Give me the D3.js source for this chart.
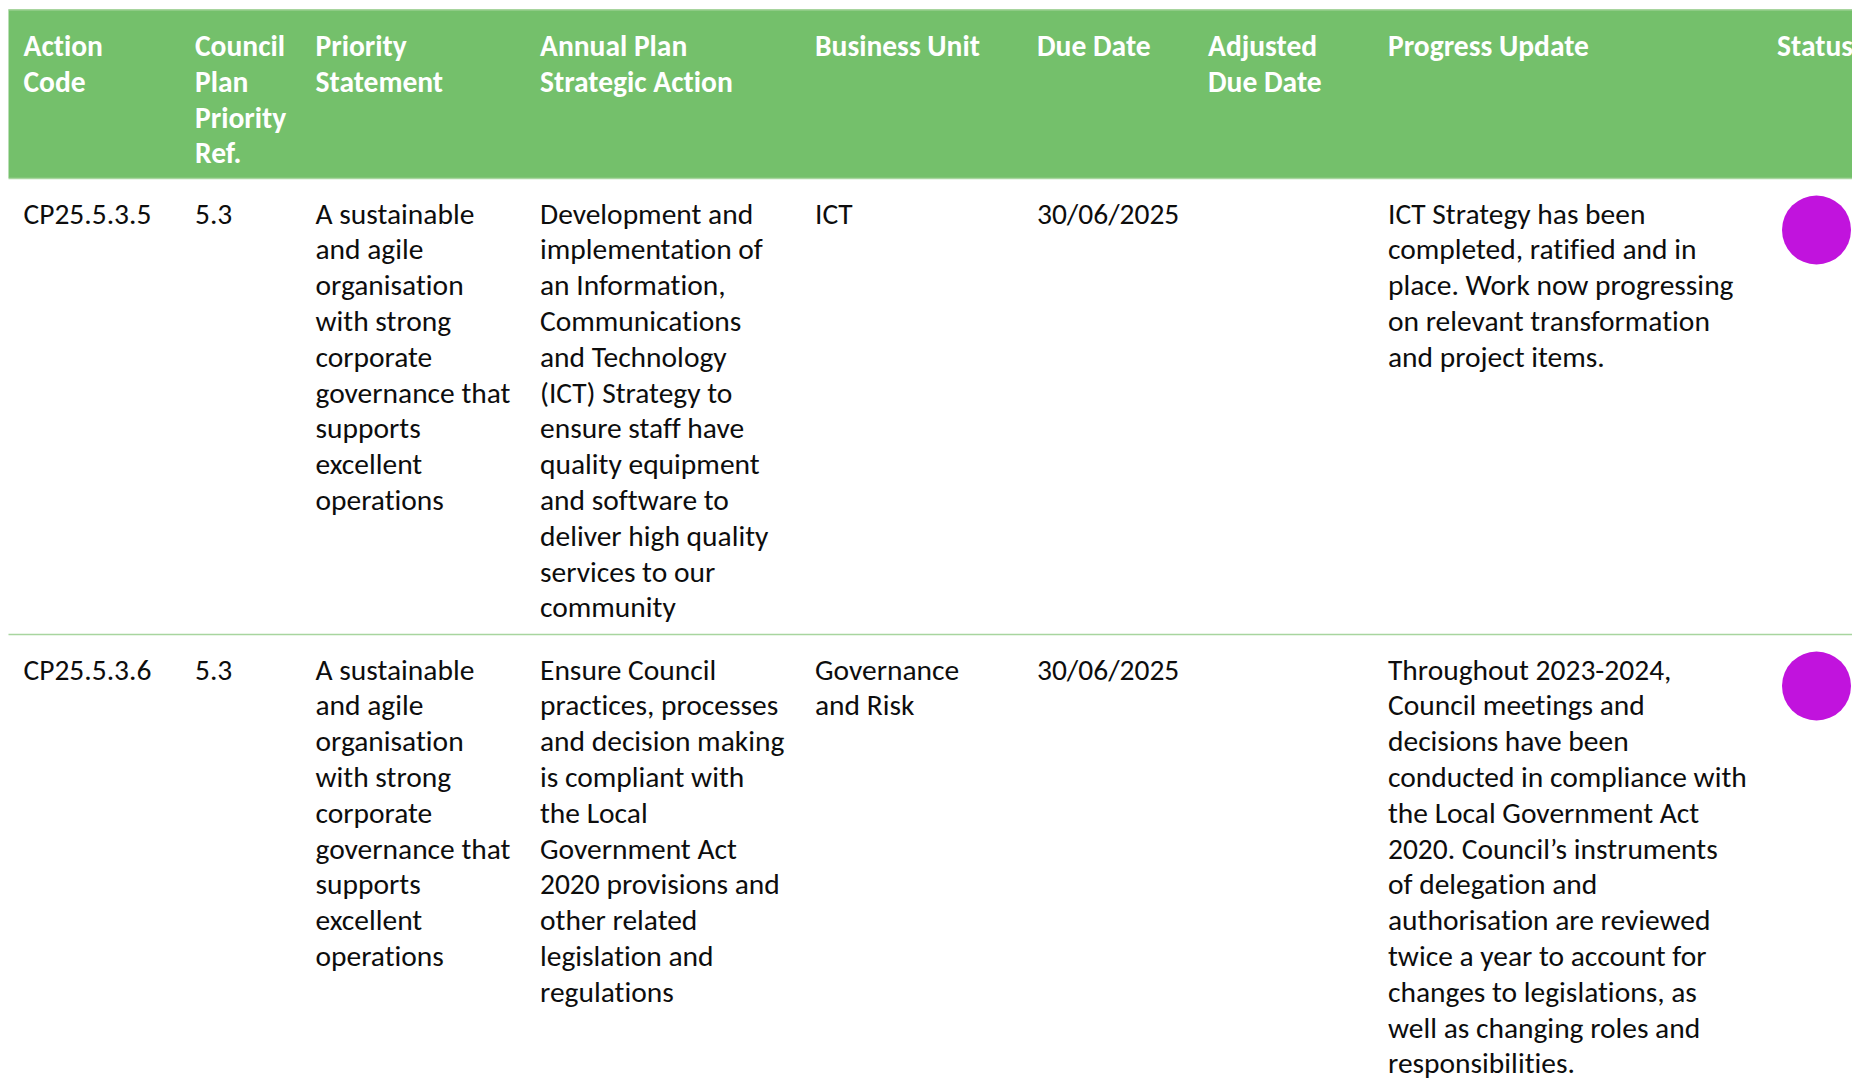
<!DOCTYPE html>
<html>
<head>
<meta charset="utf-8">
<script src="https://cdn.jsdelivr.net/npm/d3@7"></script>
<style>
  html, body { margin: 0; padding: 0; background: #ffffff; overflow: hidden; }
  svg { display: block; }
  text { font-variant-ligatures: none; font-feature-settings: "liga" 0, "clig" 0; }
</style>
</head>
<body>
<svg id="chart" width="1852" height="1084"></svg>
<script>
// ---------------- DATA ----------------
const columnKeys = ["code", "ref", "priority", "action", "unit", "due", "adjusted", "progress", "status"];
const headerLabels = [
  ["Action", "Code"],
  ["Council", "Plan", "Priority", "Ref."],
  ["Priority", "Statement"],
  ["Annual Plan", "Strategic Action"],
  ["Business Unit"],
  ["Due Date"],
  ["Adjusted", "Due Date"],
  ["Progress Update"],
  ["Status"]
];

const actionCodes = ["CP25.5.3.5", "CP25.5.3.6"];
const priorityRefs = ["5.3", "5.3"];
const priorityStatements = [
  ["A sustainable", "and agile", "organisation", "with strong", "corporate", "governance that", "supports", "excellent", "operations"],
  ["A sustainable", "and agile", "organisation", "with strong", "corporate", "governance that", "supports", "excellent", "operations"]
];
const strategicActions = [
  ["Development and", "implementation of", "an Information,", "Communications", "and Technology", "(ICT) Strategy to", "ensure staff have", "quality equipment", "and software to", "deliver high quality", "services to our", "community"],
  ["Ensure Council", "practices, processes", "and decision making", "is compliant with", "the Local", "Government Act", "2020 provisions and", "other related", "legislation and", "regulations"]
];
const businessUnits = [["ICT"], ["Governance", "and Risk"]];
const dueDates = ["30/06/2025", "30/06/2025"];
const adjustedDueDates = ["", ""];
const progressUpdates = [
  ["ICT Strategy has been", "completed, ratified and in", "place. Work now progressing", "on relevant transformation", "and project items."],
  ["Throughout 2023-2024,", "Council meetings and", "decisions have been", "conducted in compliance with", "the Local Government Act", "2020. Council\u2019s instruments", "of delegation and", "authorisation are reviewed", "twice a year to account for", "changes to legislations, as", "well as changing roles and", "responsibilities."]
];
const statuses = ["Completed", "Completed"];

// ---------------- LAYOUT / STYLE ----------------
const W = 1852, H = 1084;
const colStart = [23.5, 195, 315.5, 540, 815, 1037, 1208, 1388, 1777];
const xCol = d3.scaleOrdinal().domain(columnKeys).range(colStart);
const statusColor = d3.scaleOrdinal().domain(["Completed"]).range(["#c113dd"]);

const headerFill = "#74c06b";
const ruleColor = "#a8d59f";
const lineH = 35.8;
const tableLeft = 8.5, tableTop = 9.5;
const headerH = 168.5;
const rowPad = 26.4;
const baseOff = 45.5;

// pick an installed font and fit its size to the reference text widths
function fontAvailable(name) {
  const c = document.createElement("canvas").getContext("2d");
  const s = "governance that Wmli 0123";
  return ["monospace", "serif"].some(fb => {
    c.font = "40px " + fb; const a = c.measureText(s).width;
    c.font = "40px '" + name + "', " + fb; const b = c.measureText(s).width;
    return a !== b;
  });
}
const fontName = ["Carlito", "Calibri", "Lato", "Open Sans", "Noto Sans"].find(fontAvailable) || "sans-serif";
const family = "'" + fontName + "', sans-serif";
const ctx = document.createElement("canvas").getContext("2d");
ctx.font = "100px " + family;
const bodySize = 100 * 195 / ctx.measureText("governance that").width;
ctx.font = "bold 100px " + family;
const headSize = 100 * 201 / ctx.measureText("Progress Update").width;

const svg = d3.select("#chart").attr("viewBox", [0, 0, W, H]);
svg.append("rect").attr("width", W).attr("height", H).attr("fill", "#fff");

// rows
const rows = actionCodes.map((c, i) => ({
  code: [c],
  ref: [priorityRefs[i]],
  priority: priorityStatements[i],
  action: strategicActions[i],
  unit: businessUnits[i],
  due: [dueDates[i]],
  adjusted: adjustedDueDates[i] ? [adjustedDueDates[i]] : [],
  progress: progressUpdates[i],
  status: statuses[i]
}));
let y0 = tableTop + headerH;
rows.forEach(r => {
  const n = d3.max(columnKeys.filter(k => k !== "status"), k => r[k].length);
  r.top = y0; r.h = rowPad + n * lineH; y0 += r.h;
});

// header
svg.append("rect").attr("x", tableLeft).attr("y", tableTop)
  .attr("width", W - tableLeft).attr("height", headerH).attr("fill", headerFill);
svg.append("line").attr("x1", tableLeft).attr("x2", W)
  .attr("y1", tableTop + 0.25).attr("y2", tableTop + 0.25)
  .attr("stroke", ruleColor).attr("stroke-width", 1.5);

const hg = svg.append("g").attr("font-family", family).attr("font-weight", "bold")
  .attr("font-size", headSize).attr("fill", "#ffffff");
columnKeys.forEach((k, ci) => {
  const t = hg.append("text").attr("x", xCol(k)).attr("y", tableTop + baseOff);
  headerLabels[ci].forEach((ln, li) => {
    t.append("tspan").attr("x", xCol(k)).attr("y", tableTop + baseOff + 1 + li * lineH).text(ln);
  });
});

// row rules
svg.append("g").selectAll("line").data(rows).join("line")
  .attr("x1", tableLeft).attr("x2", W)
  .attr("y1", d => d.top + 0.5).attr("y2", d => d.top + 0.5)
  .attr("stroke", ruleColor).attr("stroke-width", 1.6);

// body text
const bg = svg.append("g").attr("font-family", family).attr("font-size", bodySize).attr("fill", "#0d0d0d");
rows.forEach(r => {
  columnKeys.filter(k => k !== "status").forEach(k => {
    const t = bg.append("text");
    r[k].forEach((ln, li) => {
      t.append("tspan").attr("x", xCol(k)).attr("y", r.top + baseOff + li * lineH).text(ln);
    });
  });
});

// status circles
svg.append("g").selectAll("circle").data(rows).join("circle")
  .attr("cx", xCol("status") + 39.5)
  .attr("cy", d => d.top + 52)
  .attr("r", 34.5)
  .attr("fill", d => statusColor(d.status));
</script>
</body>
</html>
